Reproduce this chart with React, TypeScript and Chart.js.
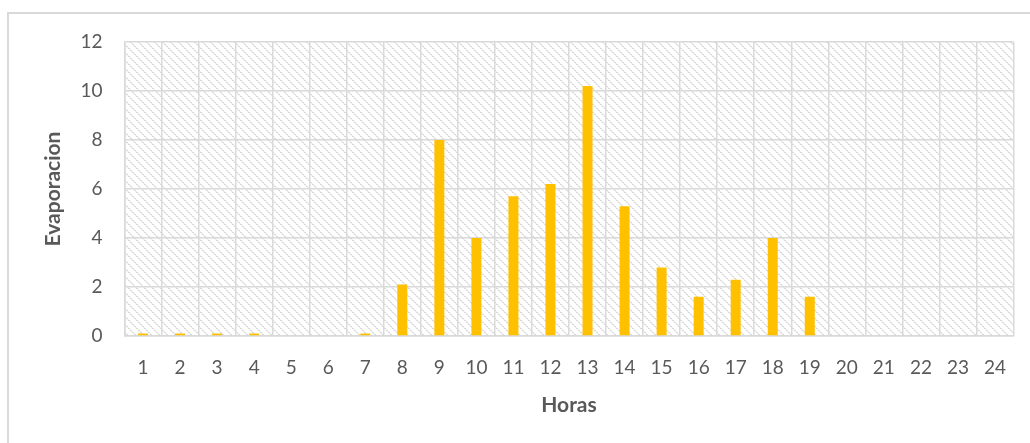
import React, { useEffect, useRef } from "react";
import { Chart, registerables } from "chart.js";

Chart.register(...registerables);

const horas: string[] = ["1","2","3","4","5","6","7","8","9","10","11","12","13","14","15","16","17","18","19","20","21","22","23","24"];
const evaporacion: number[] = [0.1,0.1,0.1,0.1,0,0,0.1,2.1,8.0,4.0,5.7,6.2,10.2,5.3,2.8,1.6,2.3,4.0,1.6,0,0,0,0,0];
const yMin = 0;
const yMax = 12;
const yStep = 2;

function makePattern(ctx: CanvasRenderingContext2D): CanvasPattern | string {
  const p = document.createElement("canvas");
  const n = 8;
  p.width = n;
  p.height = n;
  const pc = p.getContext("2d");
  if (!pc) return "#fff";
  pc.fillStyle = "#ffffff";
  pc.fillRect(0, 0, n, n);
  for (let y = 0; y < n; y++) {
    for (let x = 0; x < n; x++) {
      const d = ((x - y) % n + n) % n;
      if (d === 0 && x % 2 === 0) {
        pc.fillStyle = "#dadada";
        pc.fillRect(x, y, 1, 1);
      } else if (d === 1 && x % 2 === 1) {
        pc.fillStyle = "#dadada";
        pc.fillRect(x, y, 1, 1);
      } else if (d === 0 || d === 1) {
        pc.fillStyle = "#eeeeee";
        pc.fillRect(x, y, 1, 1);
      }
    }
  }
  return ctx.createPattern(p, "repeat") || "#fff";
}

const hatchPlugin = {
  id: "hatchBg",
  beforeDraw(chart: any) {
    const { ctx, chartArea } = chart;
    if (!chartArea) return;
    ctx.save();
    ctx.fillStyle = makePattern(ctx);
    ctx.fillRect(chartArea.left, chartArea.top, chartArea.right - chartArea.left, chartArea.bottom - chartArea.top);
    ctx.restore();
  },
};

export default function App() {
  const ref = useRef<HTMLCanvasElement | null>(null);
  useEffect(() => {
    if (!ref.current) return;
    const font = "Lato, 'Open Sans', sans-serif";
    const chart = new Chart(ref.current, {
      type: "bar",
      data: {
        labels: horas,
        datasets: [
          {
            label: "Evaporacion",
            data: evaporacion,
            backgroundColor: "#FFC000",
            borderWidth: 0,
            categoryPercentage: 1,
            barPercentage: 0.27,
          },
        ],
      },
      options: {
        animation: false,
        responsive: false,
        maintainAspectRatio: false,
        layout: { padding: { top: 42, right: 16.5, left: 0, bottom: 0 } },
        plugins: {
          legend: { display: false },
          tooltip: { enabled: false },
        },
        scales: {
          x: {
            offset: true,
            grid: { offset: true, color: "#d9d9d9", lineWidth: 1.5, drawTicks: false },
            border: { display: true, color: "#d9d9d9", width: 1.5 },
            ticks: { color: "#595959", font: { family: font, size: 19 }, padding: 20, maxRotation: 0, autoSkip: false },
            title: { display: true, text: "Horas", color: "#595959", font: { family: font, size: 21, weight: "bold" }, padding: { top: 0, bottom: 25 } },
            afterFit(scale: any) { scale.height = 107; },
          },
          y: {
            min: yMin,
            max: yMax,
            ticks: { stepSize: yStep, color: "#595959", font: { family: font, size: 19 }, padding: 22 },
            grid: { color: "#d9d9d9", lineWidth: 1.5, drawTicks: false },
            border: { display: true, color: "#d9d9d9", width: 1.5 },
            title: { display: true, text: "Evaporacion", color: "#595959", font: { family: font, size: 21, weight: "bold" }, padding: { top: 41, bottom: 0 } },
            afterFit(scale: any) { scale.width = 124.5; },
          },
        },
      },
      plugins: [hatchPlugin],
    } as any);
    return () => chart.destroy();
  }, []);

  return (
    <div style={{ position: "fixed", left: 0, top: 0, width: 1030, height: 443, background: "#fff", overflow: "hidden" }}>
      <div style={{ position: "absolute", left: 7, top: 12, width: 1100, height: 600, borderLeft: "2px solid #d9d9d9", borderTop: "2px solid #d9d9d9" }} />
      <canvas ref={ref} width={1030} height={443} style={{ position: "absolute", left: 0, top: 0, width: 1030, height: 443 }} />
    </div>
  );
}
